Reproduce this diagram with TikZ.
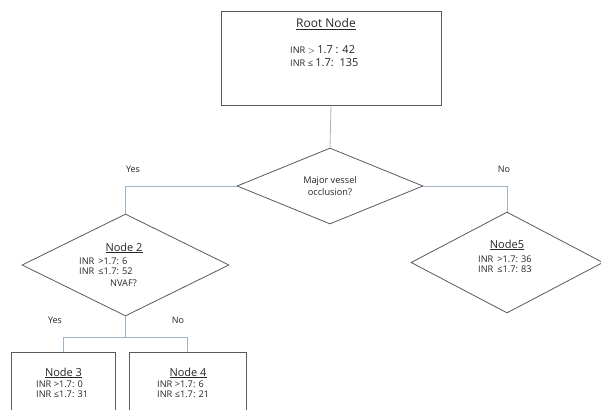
\documentclass[tikz,border=0pt]{standalone}
\usepackage{fontspec}
\setmainfont{Open Sans}
\usetikzlibrary{shapes.geometric}
\definecolor{edgegray}{HTML}{5A5A5A}
\definecolor{linkblue}{HTML}{9DB4C9}
\definecolor{txtgray}{HTML}{262626}
\begin{document}
\begin{tikzpicture}[x=1pt,y=-1pt,
  shapeline/.style={draw=edgegray, line width=0.8pt},
  boxnode/.style={shapeline, rectangle, inner sep=0pt},
  dianode/.style={shapeline, diamond, inner sep=0pt},
  link/.style={draw=linkblue, line width=0.8pt},
  body/.style={inner sep=0pt, text=txtgray, font=\fontsize{9.2}{10}\selectfont},
  title/.style={inner sep=0pt, text=txtgray, font=\fontsize{11}{12}\selectfont},
  anno/.style={inner sep=0pt, text=txtgray, font=\fontsize{9}{10}\selectfont, anchor=base}]
\useasboundingbox (0,0) rectangle (601,409);
\fill[white] (0,0) rectangle (601,409);
\clip (0,0) rectangle (601,409);

% shapes
\node[boxnode, minimum width=220pt, minimum height=94pt] (root) at (331,58) {};
\node[dianode, minimum width=186pt, minimum height=76pt] (d1) at (330,186) {};
\node[dianode, minimum width=207pt, minimum height=102pt] (n2) at (125.5,265) {};
\node[dianode, minimum width=192pt, minimum height=101pt] (n5) at (507,262.5) {};
\node[boxnode, minimum width=104pt, minimum height=80pt, anchor=north] (n3) at (63,352) {};
\node[boxnode, minimum width=117pt, minimum height=80pt, anchor=north] (n4) at (187.5,352) {};
\coordinate (j) at (125.5,337);

% connectors
\draw[link] (root.south) -- (d1.north);
\draw[link] (d1.west) -| (n2.north);
\draw[link] (d1.east) -| (n5.north);
\draw[link] (n2.south) -- (j);
\draw[link] (j) -| (n3.north);
\draw[link] (j) -| (n4.north);

% texts
\node[title, anchor=base, font=\fontsize{12}{13}\selectfont] (t0) at (326,28) {\underline{Root Node}};
\node[body, anchor=base west] (t0a) at (290,54) {\fontsize{9.2}{10}\selectfont INR $>$ \fontsize{11}{12}\selectfont 1.7 : 42};
\node[body, anchor=base west] (t0b) at (290,67) {\fontsize{9.2}{10}\selectfont INR ≤ \fontsize{11}{12}\selectfont 1.7:\ \ 135};

\node[body, anchor=base] (t1a) at (330,183) {Major vessel};
\node[body, anchor=base] (t1b) at (330,195) {occlusion?};

\node[title, anchor=base] (t2) at (124,251) {\underline{Node 2}};
\node[body, anchor=base west] (t2a) at (79,264) {INR \,>1.7: 6};
\node[body, anchor=base west] (t2b) at (79,274.5) {INR \,≤1.7: 52};
\node[body, anchor=base west] (t2c) at (110,286) {NVAF?};

\node[title, anchor=base] (t5) at (507,248) {\underline{Node5}};
\node[body, anchor=base west] (t5a) at (478,262) {INR \,>1.7: 36};
\node[body, anchor=base west] (t5b) at (478,272.5) {INR \,≤1.7: 83};

\node[title, anchor=base] (t3) at (63.5,376) {\underline{Node 3}};
\node[body, anchor=base west] (t3a) at (36,387) {INR >1.7: 0};
\node[body, anchor=base west] (t3b) at (36,397.5) {INR ≤1.7: 31};

\node[title, anchor=base] (t4) at (188,376) {\underline{Node 4}};
\node[body, anchor=base west] (t4a) at (157,387) {INR >1.7: 6};
\node[body, anchor=base west] (t4b) at (157,397.5) {INR ≤1.7: 21};

% branch labels
\node[anno] (y1) at (133,172) {Yes};
\node[anno] (no1) at (504,172) {No};
\node[anno] (y2) at (55,323) {Yes};
\node[anno] (no2) at (178,323) {No};
\end{tikzpicture}
\end{document}
